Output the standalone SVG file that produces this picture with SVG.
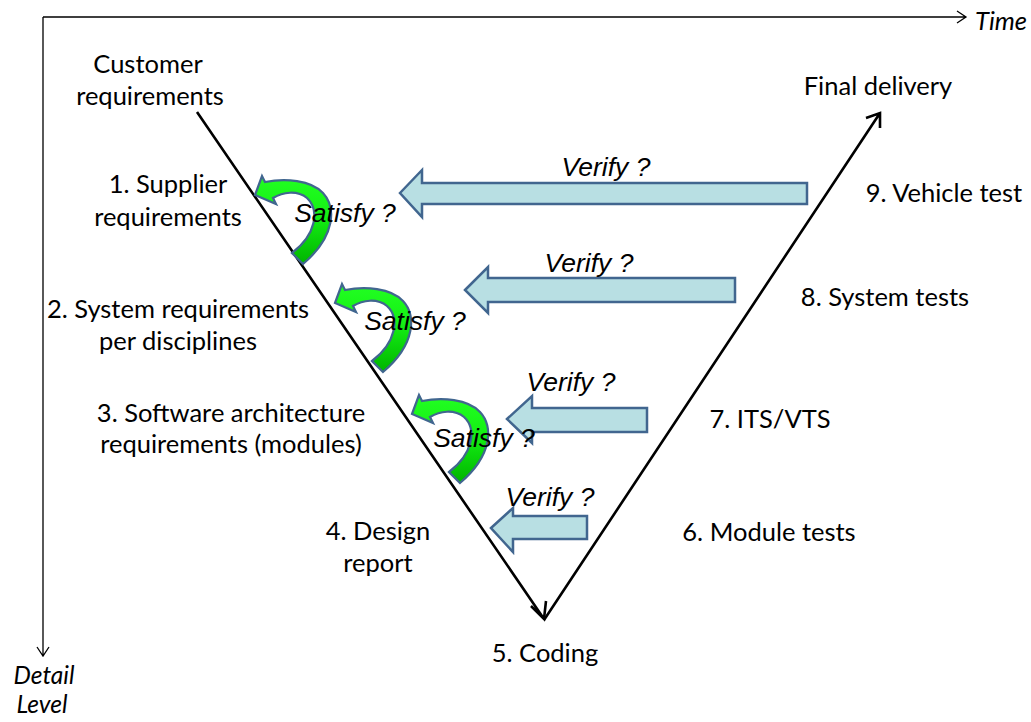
<svg xmlns="http://www.w3.org/2000/svg" width="1031" height="722" viewBox="0 0 1031 722">
<defs>
<linearGradient id="gr" x1="0" y1="0" x2="0" y2="1">
<stop offset="0" stop-color="#22ff22"/>
<stop offset="0.45" stop-color="#14f014"/>
<stop offset="1" stop-color="#00b400"/>
</linearGradient>
<path id="curl" d="M0,0 L7,-19 L10,-13 C30,-17 56,-15 68,-2 C81,12 81,41 48,69 L37,58 C61,40 65,15 52,3 C42,-5 28,-3 18,3 L21,9 Z"/>
</defs>
<style>
.lbl{font-family:Lato,"Liberation Sans",sans-serif;font-size:25.5px;fill:#000;text-anchor:middle}
.it{font-family:"Liberation Sans",Arial,sans-serif;font-style:italic;font-size:26.5px;fill:#000;text-anchor:middle}
.ax{stroke:#000;stroke-width:1.3;fill:none}
.v{stroke:#000;stroke-width:2.6;fill:none}
.blk{fill:#b8dfe3;stroke:#41668f;stroke-width:2.5;stroke-linejoin:miter}
.cur{fill:url(#gr);stroke:#41668f;stroke-width:2.2;stroke-linejoin:miter}
</style>
<rect width="1031" height="722" fill="#fff"/>

<g id="connectors">
<path class="ax" d="M43,17 H966 M957,11 L966,17 L957,23"/>
<path class="ax" d="M43,17 V656 M37,647 L43,656 L49,647"/>
<path class="v" d="M197,112 L544,619 M531,606 L544,619 L546,601"/>
<path class="v" d="M544,620 L880,113 M866,118 L880,113 L880,128"/>
</g>

<g id="verify1"><path class="blk" d="M400,193 L422,170 L422,183 L807,183 L807,204 L422,204 L422,217 Z"/><text class="it" x="606" y="176">Verify ?</text></g>
<g id="verify2"><path class="blk" d="M465,290 L488,267 L488,278 L735,278 L735,302 L488,302 L488,313 Z"/><text class="it" x="589" y="272">Verify ?</text></g>
<g id="verify3"><path class="blk" d="M507,419 L532,396 L532,408 L647,408 L647,432 L532,432 L532,443 Z"/><text class="it" x="571" y="391">Verify ?</text></g>
<g id="verify4"><path class="blk" d="M491,528 L513,508 L513,516 L587,516 L587,539 L513,539 L513,552 Z"/><text class="it" x="550" y="506">Verify ?</text></g>

<g id="satisfy1"><use href="#curl" class="cur" transform="translate(255,195)"/><text class="it" x="345" y="222">Satisfy ?</text></g>
<g id="satisfy2"><use href="#curl" class="cur" transform="translate(335,303)"/><text class="it" x="415" y="330">Satisfy ?</text></g>
<g id="satisfy3"><use href="#curl" class="cur" transform="translate(412,414)"/><text class="it" x="484" y="447">Satisfy ?</text></g>

<g id="customer"><text class="lbl" x="148" y="73">Customer</text><text class="lbl" x="150" y="105">requirements</text></g>
<g id="n1"><text class="lbl" x="168" y="193">1. Supplier</text><text class="lbl" x="168" y="226">requirements</text></g>
<g id="n2"><text class="lbl" x="178" y="318">2. System requirements</text><text class="lbl" x="178" y="350">per disciplines</text></g>
<g id="n3"><text class="lbl" x="231" y="422">3. Software architecture</text><text class="lbl" x="231" y="453">requirements (modules)</text></g>
<g id="n4"><text class="lbl" x="378" y="540">4. Design</text><text class="lbl" x="378" y="572">report</text></g>
<g id="n5"><text class="lbl" x="545" y="662">5. Coding</text></g>
<g id="n6"><text class="lbl" x="769" y="541">6. Module tests</text></g>
<g id="n7"><text class="lbl" x="770" y="428">7. ITS/VTS</text></g>
<g id="n8"><text class="lbl" x="885" y="306">8. System tests</text></g>
<g id="n9"><text class="lbl" x="944" y="202">9. Vehicle test</text></g>
<g id="final"><text class="lbl" x="878" y="95">Final delivery</text></g>
<g id="time"><text class="lbl" x="975" y="30" style="font-style:italic;text-anchor:start">Time</text></g>
<g id="detail"><text class="lbl" x="44" y="684" style="font-style:italic;font-size:24.5px">Detail</text><text class="lbl" x="42" y="713" style="font-style:italic;font-size:24.5px">Level</text></g>
</svg>
